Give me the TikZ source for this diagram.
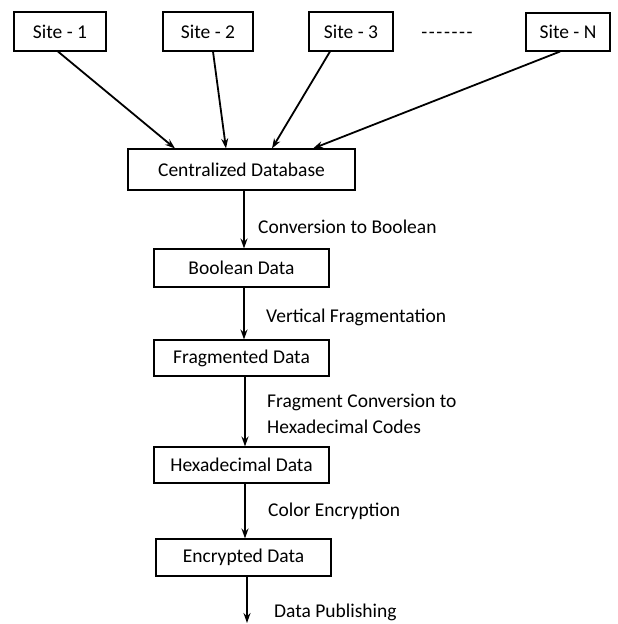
\documentclass[tikz,border=0pt]{standalone}
\usepackage{fontspec}
\setmainfont{Carlito}
\usetikzlibrary{arrows.meta}
\begin{document}
\begin{tikzpicture}[x=1pt,y=-1pt,
  every node/.style={font=\fontsize{19.5}{23}\selectfont, text=black},
  box/.style={draw=black, line width=1.1pt, inner sep=0pt, fill=white},
  lbl/.style={anchor=west, inner sep=0pt, align=left},
  arr/.style={line width=1.8pt, -{Stealth[length=10pt,width=7pt]}}]
\useasboundingbox[fill=white] (0,0) rectangle (618,624);
% sites
\node[box, minimum width=92pt, minimum height=39pt] (s1) at (60,31.5) {Site - 1};
\node[box, minimum width=90pt, minimum height=39pt] (s2) at (208,31.5) {Site - 2};
\node[box, minimum width=84pt, minimum height=39pt] (s3) at (351,31.5) {Site - 3};
\node[inner sep=0pt] (dots) at (447,35) {-\kern1.6pt-\kern1.6pt-\kern1.6pt-\kern1.6pt-\kern1.6pt-\kern1.6pt-};
\node[box, minimum width=84pt, minimum height=38pt] (sn) at (568,32) {Site - N};
% chain
\node[box, minimum width=227pt, minimum height=41pt] (cdb) at (241.5,169.5) {Centralized Database};
\node[box, minimum width=175pt, minimum height=38pt] (bool) at (241.5,268) {Boolean Data};
\node[box, minimum width=175pt, minimum height=36pt] (frag) at (241.5,358) {Fragmented Data};
\node[box, minimum width=175pt, minimum height=36pt] (hex) at (241.5,465) {Hexadecimal Data};
\node[box, minimum width=175pt, minimum height=37pt] (enc) at (243.5,557.5) {Encrypted Data};
\coordinate (out) at (247,623);
% arrows from sites
\draw[arr] ([xshift=-2pt]s1.south) -- ([xshift=-66.5pt]cdb.north);
\draw[arr] ([xshift=5pt]s2.south) -- ([xshift=-15.5pt]cdb.north);
\draw[arr] ([xshift=-21pt]s3.south) -- ([xshift=30.5pt]cdb.north);
\draw[arr] ([xshift=-8pt]sn.south) -- ([xshift=71.5pt]cdb.north);
% vertical arrows
\draw[arr] ([xshift=2.5pt]cdb.south) -- ([xshift=2.5pt]bool.north);
\draw[arr] ([xshift=2.5pt]bool.south) -- ([xshift=2.5pt]frag.north);
\draw[arr] ([xshift=3.5pt]frag.south) -- ([xshift=3.5pt]hex.north);
\draw[arr] ([xshift=3.5pt]hex.south) -- ([xshift=1.5pt]enc.north);
\draw[arr] ([xshift=3.5pt]enc.south) -- (out);
% labels
\node[lbl] (l1) at (258,227) {Conversion to Boolean};
\node[lbl] (l2) at (266,317) {Vertical Fragmentation};
\node[lbl] (l3) at (267,413.5) {Fragment Conversion to\\[3pt]Hexadecimal Codes};
\node[lbl] (l4) at (268,511) {Color Encryption};
\node[lbl] (l5) at (274,612) {Data Publishing};
\end{tikzpicture}
\end{document}
